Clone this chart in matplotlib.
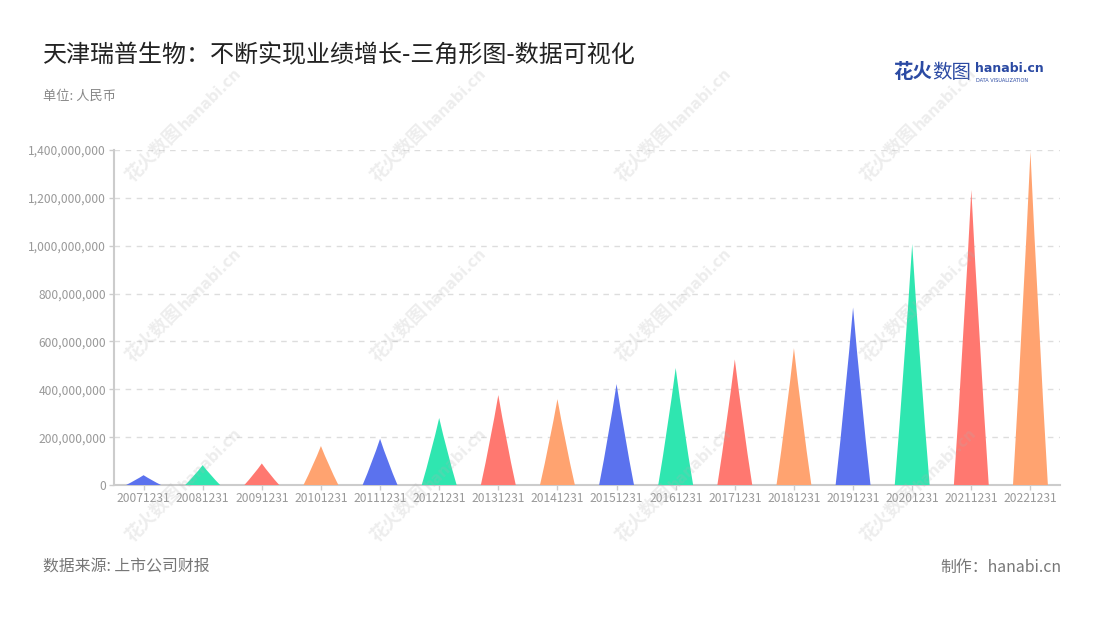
import matplotlib
matplotlib.use("Agg")
import matplotlib.pyplot as plt
from matplotlib.path import Path
from matplotlib.patches import PathPatch
from matplotlib.ticker import FuncFormatter, MultipleLocator

plt.rcParams['font.family'] = ['Noto Sans CJK SC', 'DejaVu Sans']

categories = ["20071231", "20081231", "20091231", "20101231", "20111231", "20121231",
              "20131231", "20141231", "20151231", "20161231", "20171231", "20181231",
              "20191231", "20201231", "20211231", "20221231"]
values = [41e6, 83e6, 90e6, 163e6, 193e6, 280e6, 376e6, 359e6, 422e6, 489e6,
          525e6, 572e6, 742e6, 1007e6, 1233e6, 1393e6]
palette = ["#5b72ee", "#2fe6b0", "#ff7870", "#ffa370"]

title = "天津瑞普生物：不断实现业绩增长-三角形图-数据可视化"
unit = "单位: 人民币"
source = "数据来源: 上市公司财报"
maker = "制作：hanabi.cn"

W, H = 1100, 620
fig = plt.figure(figsize=(W / 100, H / 100), dpi=100)
fig.patch.set_facecolor("white")

ax = fig.add_axes([114 / W, 1 - 485 / H, (1060 - 114) / W, (485 - 150) / H])
ax.set_facecolor("none")

n = len(categories)
half = 0.295
for i, v in enumerate(values):
    c = i
    verts = [(c - half, 0), (c + half, 0),
             (c + half * 0.44, v * 0.5), (c, v),
             (c - half * 0.44, v * 0.5), (c - half, 0), (c - half, 0)]
    codes = [Path.MOVETO, Path.LINETO, Path.CURVE3, Path.CURVE3,
             Path.CURVE3, Path.CURVE3, Path.CLOSEPOLY]
    ax.add_patch(PathPatch(Path(verts, codes), facecolor=palette[i % 4],
                           edgecolor="none", zorder=3))

ax.set_xlim(-0.5, n - 0.5)
ax.set_ylim(0, 1.4e9)
ax.set_xticks(range(n))
ax.set_xticklabels(categories)
ax.yaxis.set_major_locator(MultipleLocator(2e8))
ax.yaxis.set_major_formatter(FuncFormatter(lambda x, p: f"{int(round(x)):,}"))
ax.grid(axis="y", color="#dddddd", linestyle=(0, (4, 4)), linewidth=1, zorder=1)
for s in ["top", "right"]:
    ax.spines[s].set_visible(False)
for s in ["left", "bottom"]:
    ax.spines[s].set_color("#cccccc")
    ax.spines[s].set_linewidth(1.5)
ax.tick_params(axis="both", colors="#cccccc", labelcolor="#999999", labelsize=8.7,
               length=3.6, width=1)
ax.tick_params(axis="x", pad=1.5)
ax.tick_params(axis="y", pad=2)

# watermarks (semi-transparent, drawn over everything like the original)
for cx in [135, 380, 625, 870]:
    for cy in [185, 365, 545]:
        fig.text(cx / W, 1 - cy / H, "花火数图", rotation=45, fontsize=13,
                 color="#b0b0b0", alpha=0.22, ha="left", va="bottom", fontweight="bold",
                 rotation_mode="anchor", zorder=5)
        fig.text((cx + 52) / W, 1 - (cy - 52) / H, "hanabi.cn", rotation=45, fontsize=10.5,
                 color="#b0b0b0", alpha=0.22, ha="left", va="bottom", fontweight="bold",
                 rotation_mode="anchor", zorder=5, family=["DejaVu Sans"])

fig.text(43 / W, 1 - 55 / H, title, fontsize=17.3, color="#222222", ha="left", va="center")
fig.text(43 / W, 1 - 96 / H, unit, fontsize=9.5, color="#888888", ha="left", va="center")
fig.text(43 / W, 1 - 567 / H, source, fontsize=11.4, color="#777777", ha="left", va="center")
fig.text(1061 / W, 1 - 567 / H, maker, fontsize=11.4, color="#777777", ha="right", va="center")

# logo
fig.text(893 / W, 1 - 72 / H, "花火", fontsize=14, color="#2b4aa3", fontweight="bold",
         ha="left", va="center")
fig.text(932 / W, 1 - 72 / H, "数图", fontsize=14, color="#2b4aa3",
         ha="left", va="center")
fig.text(975 / W, 1 - 69 / H, "hanabi.cn", fontsize=9, color="#2b4aa3", fontweight="bold",
         ha="left", va="center", family=["DejaVu Sans"])
fig.text(976 / W, 1 - 80 / H, "DATA VISUALIZATION", fontsize=3.6, color="#2b4aa3",
         ha="left", va="center", family=["DejaVu Sans"])

fig.savefig("out.png", dpi=100, facecolor="white")
